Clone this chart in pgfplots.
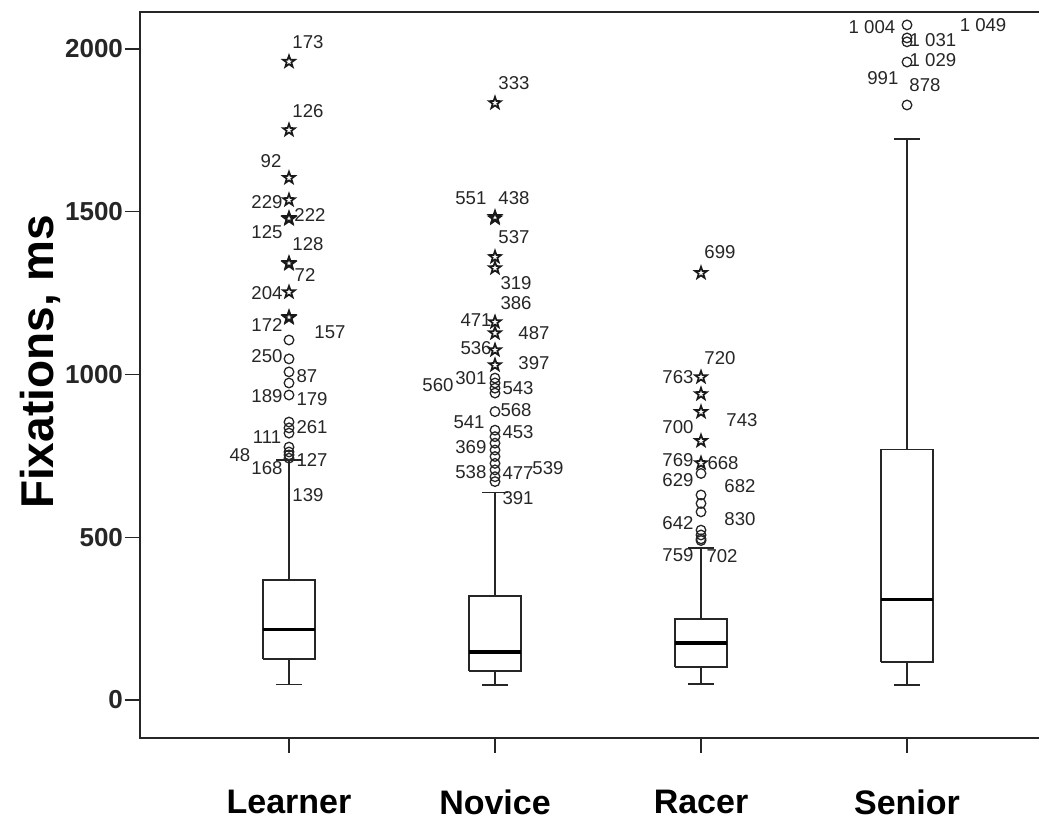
\documentclass[border=0pt]{standalone}
\usepackage{fontspec}
\setmainfont{Liberation Sans}
\usepackage{pgfplots}
\pgfplotsset{compat=1.18}

\pgfdeclareplotmark{fstar}{%
  \pgfpathmoveto{\pgfpoint{0pt}{\pgfplotmarksize}}%
  \pgfpathlineto{\pgfpoint{-0.235\pgfplotmarksize}{0.324\pgfplotmarksize}}%
  \pgfpathlineto{\pgfpoint{-0.951\pgfplotmarksize}{0.309\pgfplotmarksize}}%
  \pgfpathlineto{\pgfpoint{-0.380\pgfplotmarksize}{-0.124\pgfplotmarksize}}%
  \pgfpathlineto{\pgfpoint{-0.588\pgfplotmarksize}{-0.809\pgfplotmarksize}}%
  \pgfpathlineto{\pgfpoint{0pt}{-0.40\pgfplotmarksize}}%
  \pgfpathlineto{\pgfpoint{0.588\pgfplotmarksize}{-0.809\pgfplotmarksize}}%
  \pgfpathlineto{\pgfpoint{0.380\pgfplotmarksize}{-0.124\pgfplotmarksize}}%
  \pgfpathlineto{\pgfpoint{0.951\pgfplotmarksize}{0.309\pgfplotmarksize}}%
  \pgfpathlineto{\pgfpoint{0.235\pgfplotmarksize}{0.324\pgfplotmarksize}}%
  \pgfpathclose
  \pgfusepathqstroke
}

\tikzset{lbl/.style={font=\fontsize{9.3}{11}\selectfont, inner sep=0pt, text=black!85}}

\begin{document}
\begin{tikzpicture}
\begin{axis}[
  name=ax,
  scale only axis,
  width=451pt, height=363pt,
  xmin=-0.7233, xmax=3.6553,
  ymin=-116.7, ymax=2113.7,
  clip=false,
  unbounded coords=jump,
  axis line style={line width=0.8pt, black!85},
  xtick={0,1,2,3},
  xticklabels={Learner,Novice,Racer,Senior},
  ytick={0,500,1000,1500,2000},
  yticklabels={0,500,1000,1500,2000},
  tick align=outside,
  tick pos=left,
  major tick length=7.5pt,
  tick style={line width=0.6pt, black!85},
  yticklabel style={font=\fontsize{13}{15}\selectfont\bfseries, text=black!85, xshift=2.5pt},
  xticklabel style={font=\fontsize{17}{20}\selectfont\bfseries, yshift=-15pt},
  ylabel={Fixations, ms},
  ylabel style={font=\fontsize{23}{27}\selectfont\bfseries, at={(axis description cs:-0.1109,0.518)}, anchor=center},
  bx/.style={black!85, line width=0.8pt, mark=none, line join=miter},
  md/.style={black, line width=1.8pt, mark=none},
]
% Learner: lw 48, q1 126, med 217, q3 369, uw 737
\addplot[bx] coordinates {(-0.1275,126) (0.1275,126) (0.1275,369) (-0.1275,369) (-0.1275,126)};
\addplot[bx] coordinates {(0,48) (0,126) (nan,nan) (0,369) (0,737) (nan,nan) (-0.061,48) (0.061,48) (nan,nan) (-0.061,737) (0.061,737)};
\addplot[md] coordinates {(-0.1275,217) (0.1275,217)};
% Novice: lw 46, q1 90, med 147, q3 320, uw 637
\addplot[bx] coordinates {(0.8725,90) (1.1275,90) (1.1275,320) (0.8725,320) (0.8725,90)};
\addplot[bx] coordinates {(1,46) (1,90) (nan,nan) (1,320) (1,637) (nan,nan) (0.939,46) (1.061,46) (nan,nan) (0.939,637) (1.061,637)};
\addplot[md] coordinates {(0.8725,147) (1.1275,147)};
% Racer: lw 49, q1 101, med 175, q3 249, uw 467
\addplot[bx] coordinates {(1.8725,101) (2.1275,101) (2.1275,249) (1.8725,249) (1.8725,101)};
\addplot[bx] coordinates {(2,49) (2,101) (nan,nan) (2,249) (2,467) (nan,nan) (1.939,49) (2.061,49) (nan,nan) (1.939,467) (2.061,467)};
\addplot[md] coordinates {(1.8725,175) (2.1275,175)};
% Senior: lw 47, q1 117, med 309, q3 770, uw 1723
\addplot[bx] coordinates {(2.8725,117) (3.1275,117) (3.1275,770) (2.8725,770) (2.8725,117)};
\addplot[bx] coordinates {(3,47) (3,117) (nan,nan) (3,770) (3,1723) (nan,nan) (2.939,47) (3.061,47) (nan,nan) (2.939,1723) (3.061,1723)};
\addplot[md] coordinates {(2.8725,309) (3.1275,309)};

% circle outliers
\addplot[only marks, mark=o, mark size=2.4pt, black!85, mark options={line width=0.65pt}] coordinates {
 (0,1106) (0,1048) (0,1008) (0,974) (0,937) (0,854) (0,836) (0,820) (0,777) (0,762) (0,753) (0,743)
 (1,989) (1,974) (1,958) (1,943) (1,886) (1,829) (1,809) (1,789) (1,768) (1,748) (1,727) (1,707) (1,686) (1,671)
 (2,696) (2,630) (2,604) (2,578) (2,522) (2,507) (2,495) (2,490)
 (3,2074) (3,2034) (3,2022) (3,1960) (3,1828)
};
% star outliers
\addplot[only marks, mark=fstar, mark size=3.1pt, black!90, mark options={line width=0.85pt, line join=miter}] coordinates {
 (0,1961) (0,1751) (0,1604) (0,1536) (0,1481) (0,1478) (0,1343) (0,1340) (0,1253) (0,1177) (0,1174)
 (1,1834) (1,1484) (1,1480) (1,1361) (1,1327) (1,1161) (1,1127) (1,1075) (1,1029)
 (2,1312) (2,992) (2,940) (2,885) (2,796) (2,728)
};

% labels Learner
\node[lbl] at (axis cs:0.092,2021) {173};
\node[lbl] at (axis cs:0.092,1810) {126};
\node[lbl] at (axis cs:-0.087,1655) {92};
\node[lbl] at (axis cs:-0.107,1530) {229};
\node[lbl] at (axis cs:0.102,1490) {222};
\node[lbl] at (axis cs:-0.107,1438) {125};
\node[lbl] at (axis cs:0.092,1400) {128};
\node[lbl] at (axis cs:0.078,1306) {72};
\node[lbl] at (axis cs:-0.107,1250) {204};
\node[lbl] at (axis cs:-0.107,1152) {172};
\node[lbl] at (axis cs:0.199,1131) {157};
\node[lbl] at (axis cs:-0.107,1057) {250};
\node[lbl] at (axis cs:0.087,995) {87};
\node[lbl] at (axis cs:-0.107,934) {189};
\node[lbl] at (axis cs:0.112,925) {179};
\node[lbl] at (axis cs:0.112,839) {261};
\node[lbl] at (axis cs:-0.107,808) {111};
\node[lbl] at (axis cs:-0.238,753) {48};
\node[lbl] at (axis cs:-0.107,713) {168};
\node[lbl] at (axis cs:0.112,737) {127};
\node[lbl] at (axis cs:0.092,630) {139};
% labels Novice
\node[lbl] at (axis cs:1.092,1896) {333};
\node[lbl] at (axis cs:0.883,1542) {551};
\node[lbl] at (axis cs:1.092,1542) {438};
\node[lbl] at (axis cs:1.092,1422) {537};
\node[lbl] at (axis cs:1.102,1281) {319};
\node[lbl] at (axis cs:1.102,1220) {386};
\node[lbl] at (axis cs:0.908,1167) {471};
\node[lbl] at (axis cs:1.189,1127) {487};
\node[lbl] at (axis cs:0.908,1081) {536};
\node[lbl] at (axis cs:1.189,1035) {397};
\node[lbl] at (axis cs:0.723,968) {560};
\node[lbl] at (axis cs:0.883,989) {301};
\node[lbl] at (axis cs:1.112,959) {543};
\node[lbl] at (axis cs:1.102,891) {568};
\node[lbl] at (axis cs:0.874,854) {541};
\node[lbl] at (axis cs:1.112,823) {453};
\node[lbl] at (axis cs:0.883,777) {369};
\node[lbl] at (axis cs:0.883,700) {538};
\node[lbl] at (axis cs:1.112,697) {477};
\node[lbl] at (axis cs:1.257,713) {539};
\node[lbl] at (axis cs:1.112,621) {391};
% labels Racer
\node[lbl] at (axis cs:2.092,1376) {699};
\node[lbl] at (axis cs:2.092,1051) {720};
\node[lbl] at (axis cs:1.888,992) {763};
\node[lbl] at (axis cs:2.199,860) {743};
\node[lbl] at (axis cs:1.888,839) {700};
\node[lbl] at (axis cs:1.888,737) {769};
\node[lbl] at (axis cs:2.107,728) {668};
\node[lbl] at (axis cs:1.888,676) {629};
\node[lbl] at (axis cs:2.189,657) {682};
\node[lbl] at (axis cs:1.888,544) {642};
\node[lbl] at (axis cs:2.189,556) {830};
\node[lbl] at (axis cs:1.888,445) {759};
\node[lbl] at (axis cs:2.102,442) {702};
% labels Senior
\node[lbl] at (axis cs:2.83,2068) {1 004};
\node[lbl] at (axis cs:3.369,2074) {1 049};
\node[lbl] at (axis cs:3.126,2028) {1 031};
\node[lbl] at (axis cs:3.126,1966) {1 029};
\node[lbl] at (axis cs:2.883,1911) {991};
\node[lbl] at (axis cs:3.087,1889) {878};
\end{axis}
\pgfresetboundingbox
\path[use as bounding box] ([shift={(-70pt,-41.5pt)}]ax.south west) rectangle ([shift={(449.5pt,369pt)}]ax.south west);
\end{tikzpicture}
\end{document}
